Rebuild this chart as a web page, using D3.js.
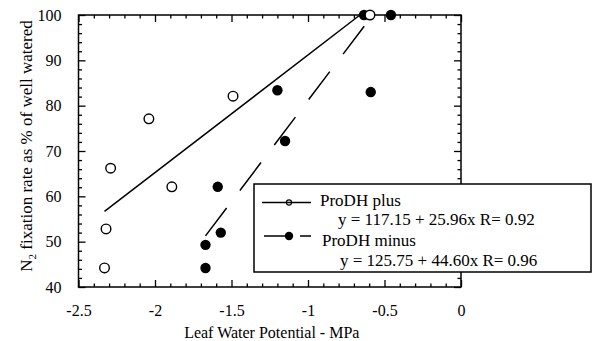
<!DOCTYPE html>
<html><head><meta charset="utf-8">
<script src="https://cdn.jsdelivr.net/npm/d3@7"></script>
<style>
body{margin:0;background:#fff;}
svg, svg text{font-family:'Liberation Serif','Tinos','DejaVu Serif',serif !important;}
</style></head>
<body><svg id="c" width="594" height="341"></svg>
<script>
// ---- data ----
const plusX  = [-2.33, -2.32, -2.29, -2.04, -1.89, -1.49, -0.595];
const plusY  = [44.2, 52.8, 66.2, 77.1, 62.1, 82.1, 100];
const minusX = [-1.67, -1.67, -1.59, -1.57, -1.20, -1.15, -0.59, -0.634, -0.458];
const minusY = [44.2, 49.3, 62.1, 52.0, 83.4, 72.2, 83.0, 100, 100];
const plusFit  = [117.15, 25.96];
const minusFit = [125.75, 44.60];
const xTicks = [-2.5, -2, -1.5, -1, -0.5, 0];
const yTicks = [40, 50, 60, 70, 80, 90, 100];
const legendLabels = ["ProDH plus", "ProDH minus"];
const legendEqs = ["y = 117.15 + 25.96x R= 0.92", "y = 125.75 + 44.60x R= 0.96"];
const xTitle = "Leaf Water Potential - MPa";

// ---- layout ----
const FONT = "'Liberation Serif','Tinos','DejaVu Serif',serif";
const svg = d3.select("#c");
const L = 78.5, R = 461, T = 15, B = 287;
const x = d3.scaleLinear().domain([-2.5, 0]).range([L, R]);
const y = d3.scaleLinear().domain([40, 100]).range([B, T]);
const xMinor = d3.range(-25, 1).map(d => d / 10).filter(d => !xTicks.some(t => Math.abs(t - d) < 1e-9));
const yMinor = d3.range(40, 101, 2).filter(d => d % 10 !== 0);
const fmt = d => String(d);

function styleAxis(g){
  g.attr("font-family", FONT);
  g.select(".domain").remove();
  g.selectAll("line").attr("stroke", "#000").attr("stroke-width", 1.3);
  g.selectAll("text").attr("fill", "#000").attr("font-size", 16).attr("font-family", FONT);
}
// bottom
svg.append("g").attr("transform", `translate(0,${B})`)
  .call(d3.axisBottom(x).tickValues(xTicks).tickSize(-7).tickPadding(18).tickFormat(fmt)).call(styleAxis);
svg.append("g").attr("transform", `translate(0,${B})`)
  .call(d3.axisBottom(x).tickValues(xMinor).tickSize(-3.5).tickFormat("")).call(styleAxis);
// top
svg.append("g").attr("transform", `translate(0,${T})`)
  .call(d3.axisTop(x).tickValues(xTicks).tickSize(-7).tickFormat("")).call(styleAxis);
svg.append("g").attr("transform", `translate(0,${T})`)
  .call(d3.axisTop(x).tickValues(xMinor).tickSize(-3.5).tickFormat("")).call(styleAxis);
// left
svg.append("g").attr("transform", `translate(${L},0)`)
  .call(d3.axisLeft(y).tickValues(yTicks).tickSize(-7).tickPadding(17).tickFormat(fmt)).call(styleAxis);
svg.append("g").attr("transform", `translate(${L},0)`)
  .call(d3.axisLeft(y).tickValues(yMinor).tickSize(-3.5).tickFormat("")).call(styleAxis);
// right
svg.append("g").attr("transform", `translate(${R},0)`)
  .call(d3.axisRight(y).tickValues(yTicks).tickSize(-7).tickFormat("")).call(styleAxis);
svg.append("g").attr("transform", `translate(${R},0)`)
  .call(d3.axisRight(y).tickValues(yMinor).tickSize(-3.5).tickFormat("")).call(styleAxis);

// frame
svg.append("rect").attr("x", L).attr("y", T).attr("width", R - L).attr("height", B - T)
  .attr("fill", "none").attr("stroke", "#000").attr("stroke-width", 1.5);

// regression lines
function fitLine(xs, fit){
  const x0 = d3.min(xs);
  const x1 = Math.min(d3.max(xs), (100 - fit[0]) / fit[1]);
  return [[x0, fit[0] + fit[1] * x0], [x1, fit[0] + fit[1] * x1]];
}
const line = d3.line().x(d => x(d[0])).y(d => y(d[1]));
svg.append("path").attr("d", line(fitLine(plusX, plusFit)))
  .attr("fill", "none").attr("stroke", "#000").attr("stroke-width", 1.5);
svg.append("path").attr("d", line(fitLine(minusX, minusFit)))
  .attr("fill", "none").attr("stroke", "#000").attr("stroke-width", 1.5)
  .attr("stroke-dasharray", "35,22");

// points
svg.append("g").selectAll("circle").data(minusX.map((d, i) => [d, minusY[i]])).join("circle")
  .attr("cx", d => x(d[0])).attr("cy", d => y(d[1])).attr("r", 5.2).attr("fill", "#000");
svg.append("g").selectAll("circle").data(plusX.map((d, i) => [d, plusY[i]])).join("circle")
  .attr("cx", d => x(d[0])).attr("cy", d => y(d[1])).attr("r", 4.8)
  .attr("fill", "#fff").attr("stroke", "#000").attr("stroke-width", 1.4);

// legend
const lg = svg.append("g").attr("font-family", FONT);
lg.append("rect").attr("x", 254).attr("y", 184).attr("width", 337).attr("height", 88)
  .attr("fill", "#fff").attr("stroke", "#000").attr("stroke-width", 1.5);
lg.append("line").attr("x1", 262).attr("x2", 311).attr("y1", 202.5).attr("y2", 202.5)
  .attr("stroke", "#000").attr("stroke-width", 1.5);
lg.append("circle").attr("cx", 289).attr("cy", 202.5).attr("r", 2.6)
  .attr("fill", "none").attr("stroke", "#000").attr("stroke-width", 1.1);
lg.append("line").attr("x1", 264).attr("x2", 311).attr("y1", 236).attr("y2", 236)
  .attr("stroke", "#000").attr("stroke-width", 1.5).attr("stroke-dasharray", "25,11,11");
lg.append("circle").attr("cx", 289).attr("cy", 236).attr("r", 4.2).attr("fill", "#000");
const tStyle = s => s.attr("font-size", 17).attr("fill", "#000");
lg.append("text").attr("x", 320).attr("y", 205.5).text(legendLabels[0]).call(tStyle);
lg.append("text").attr("x", 338).attr("y", 224.5).text(legendEqs[0]).call(tStyle);
lg.append("text").attr("x", 322).attr("y", 245.5).text(legendLabels[1]).call(tStyle);
lg.append("text").attr("x", 340).attr("y", 266).text(legendEqs[1]).call(tStyle);

// axis titles
svg.append("text").attr("x", (L + R) / 2 + 2).attr("y", 338).attr("text-anchor", "middle")
  .attr("font-family", FONT).attr("font-size", 16).text(xTitle);
const yt = svg.append("text").attr("transform", "translate(32,146) rotate(-90)")
  .attr("text-anchor", "middle").attr("font-family", FONT).attr("font-size", 17);
yt.append("tspan").text("N");
yt.append("tspan").attr("dy", 4).attr("font-size", 11).text("2");
yt.append("tspan").attr("dy", -4).text(" fixation rate as % of well watered");
</script></body></html>
